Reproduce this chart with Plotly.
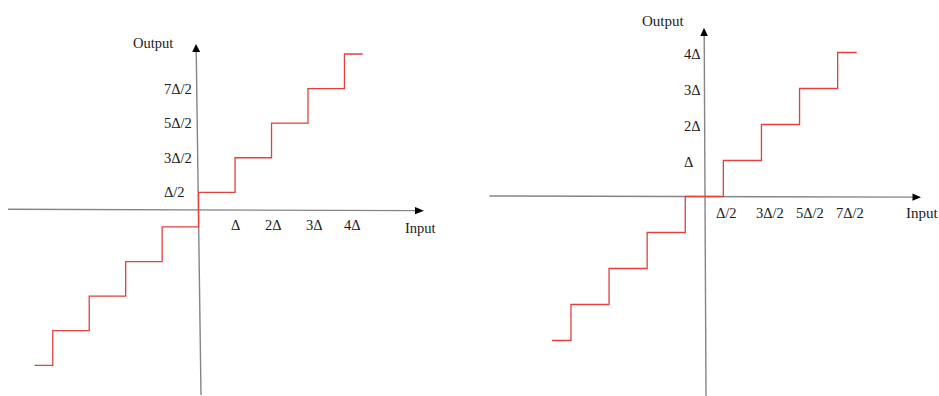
import plotly.graph_objects as go

# ---- Quantizer characteristics (input/output in units of the step size Δ) ----
# Mid-rise quantizer: step edges on the input axis and the output level that follows each edge
midrise_input = [-4.5, -4, -3, -2, -1, 0, 1, 2, 3, 4, 4.5]
midrise_output = [-4.5, -3.5, -2.5, -1.5, -0.5, 0.5, 1.5, 2.5, 3.5, 4.5, 4.5]

# Mid-tread quantizer
midtread_input = [-4, -3.5, -2.5, -1.5, -0.5, 0.5, 1.5, 2.5, 3.5, 4]
midtread_output = [-4, -3, -2, -1, 0, 1, 2, 3, 4, 4]

# Tick values and labels
midrise_xticks = [1, 2, 3, 4]
midrise_xlabels = ["Δ", "2Δ", "3Δ", "4Δ"]
midrise_yticks = [0.5, 1.5, 2.5, 3.5]
midrise_ylabels = ["Δ/2", "3Δ/2", "5Δ/2", "7Δ/2"]

midtread_xticks = [0.5, 1.5, 2.5, 3.5]
midtread_xlabels = ["Δ/2", "3Δ/2", "5Δ/2", "7Δ/2"]
midtread_yticks = [1, 2, 3, 4]
midtread_ylabels = ["Δ", "2Δ", "3Δ", "4Δ"]

# ---- Page geometry (pixels) ----
W, H = 939, 396
SPLIT = 470
# origin position and pixels per Δ for each panel
L_X0, L_Y0, L_DX, L_DY = 198.6, 209.65, 36.46, 34.59
R_X0, R_Y0, R_DX, R_DY = 704.3, 196.5, 38.1, 36.0

STEP_COLOR = "#e2403f"
AXIS_COLOR = "#858585"
TEXT_COLOR = "#1a1a1a"
FONT = "Liberation Serif, Times New Roman, serif"


def px(x, y):
    """Pixel position -> paper coordinates."""
    return x / W, 1 - y / H


fig = go.Figure()

fig.add_trace(go.Scatter(
    x=midrise_input, y=midrise_output, mode="lines", line_shape="hv",
    line=dict(color=STEP_COLOR, width=1.3), xaxis="x", yaxis="y",
    hoverinfo="skip", cliponaxis=False,
))
fig.add_trace(go.Scatter(
    x=midtread_input, y=midtread_output, mode="lines", line_shape="hv",
    line=dict(color=STEP_COLOR, width=1.3), xaxis="x2", yaxis="y2",
    hoverinfo="skip", cliponaxis=False,
))

shapes = []


def axis_line(x0, y0, x1, y1):
    a, b = px(x0, y0)
    c, d = px(x1, y1)
    shapes.append(dict(type="line", xref="paper", yref="paper",
                       x0=a, y0=b, x1=c, y1=d, layer="below",
                       line=dict(color=AXIS_COLOR, width=1.4)))


def arrow_head(tip, base, half):
    """Filled triangle; tip and base centre given in pixels."""
    (tx, ty), (bx, by) = tip, base
    dx, dy = tx - bx, ty - by
    n = (dx * dx + dy * dy) ** 0.5
    nx, ny = -dy / n * half, dx / n * half
    pts = [px(tx, ty), px(bx + nx, by + ny), px(bx - nx, by - ny)]
    path = "M{:.5f},{:.5f} L{:.5f},{:.5f} L{:.5f},{:.5f} Z".format(
        *pts[0], *pts[1], *pts[2])
    shapes.append(dict(type="path", xref="paper", yref="paper", path=path,
                       fillcolor="black", line=dict(width=0), layer="below"))


# left panel axes
axis_line(8, 209.3, 416, 210.6)
arrow_head((424, 210.7), (415, 210.6), 3.6)
axis_line(201, 395, 196.2, 50)
arrow_head((196, 44), (196.2, 52), 4.0)
# right panel axes
axis_line(489.3, 196.0, 913, 197.1)
arrow_head((921, 197.2), (912.5, 197.1), 3.6)
axis_line(706, 396, 704.2, 35)
arrow_head((704, 27.8), (704.1, 36), 3.8)

annotations = []


def label(text, x, y, xref, yref, size=14.5, xanchor="center", xshift=0, yshift=0):
    annotations.append(dict(text=text, x=x, y=y, xref=xref, yref=yref,
                            showarrow=False, xanchor=xanchor, yanchor="middle",
                            xshift=xshift, yshift=yshift,
                            font=dict(family=FONT, size=size, color=TEXT_COLOR)))


# hand-placed horizontal nudges of the input-axis labels (pixels)
midrise_xnudge = [0, 1.5, 7, 8]
midtread_xnudge = [3.3, 8.5, 10.4, 12.3]

for v, t, n in zip(midrise_xticks, midrise_xlabels, midrise_xnudge):
    label(t, v, 0, "x", "y", xshift=n, yshift=-15.4)
for v, t in zip(midrise_yticks, midrise_ylabels):
    label(t, 0, v, "x", "y", xanchor="left", xshift=-37)
for v, t, n in zip(midtread_xticks, midtread_xlabels, midtread_xnudge):
    label(t, v, 0, "x2", "y2", xshift=n, yshift=-16.2)
for v, t in zip(midtread_yticks, midtread_ylabels):
    label(t, 0, v, "x2", "y2", xanchor="left", xshift=-22.5, yshift=-1.5)

# axis names
for text, (x, y), size in [("Output", px(152.7, 42.7), 14.5),
                           ("Input", px(420.7, 228.3), 14.5),
                           ("Output", px(663.3, 20.7), 15),
                           ("Input", px(922.3, 212.7), 15)]:
    label(text, x, y, "paper", "paper", size=size)


def hidden_axis(domain, rng):
    return dict(domain=domain, range=rng, visible=False, fixedrange=True)


fig.update_layout(
    width=W, height=H,
    margin=dict(l=0, r=0, t=0, b=0),
    paper_bgcolor="white", plot_bgcolor="rgba(0,0,0,0)",
    showlegend=False,
    xaxis=hidden_axis([0, SPLIT / W], [(0 - L_X0) / L_DX, (SPLIT - L_X0) / L_DX]),
    yaxis=hidden_axis([0, 1], [(L_Y0 - H) / L_DY, L_Y0 / L_DY]),
    xaxis2=hidden_axis([SPLIT / W, 1], [(SPLIT - R_X0) / R_DX, (W - R_X0) / R_DX]),
    yaxis2=hidden_axis([0, 1], [(R_Y0 - H) / R_DY, R_Y0 / R_DY]),
    shapes=shapes,
    annotations=annotations,
)
fig.update_layout(yaxis2=dict(anchor="x2"), xaxis2=dict(anchor="y2"))

fig.write_html("out.html", config={"displayModeBar": False})
